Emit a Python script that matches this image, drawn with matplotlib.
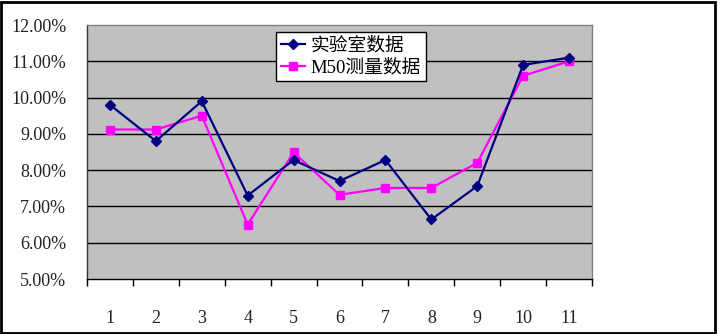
import matplotlib
matplotlib.use("Agg")
import matplotlib.pyplot as plt
from matplotlib.patches import Rectangle
from matplotlib.ticker import FixedLocator

categories = ["1", "2", "3", "4", "5", "6", "7", "8", "9", "10", "11"]
lab_values = [9.80, 8.80, 9.90, 7.30, 8.28, 7.70, 8.28, 6.64, 7.56, 10.90, 11.10]
m50_values = [9.12, 9.12, 9.50, 6.50, 8.49, 7.32, 7.51, 7.51, 8.20, 10.60, 11.00]
series_names = ["实验室数据", "M50测量数据"]
y_ticks = [5, 6, 7, 8, 9, 10, 11, 12]
y_tick_labels = ["5.00%", "6.00%", "7.00%", "8.00%", "9.00%", "10.00%", "11.00%", "12.00%"]

plt.rcParams['font.family'] = ['Liberation Serif', 'Noto Sans CJK SC']

fig = plt.figure(figsize=(7.2, 3.34), dpi=100)
fig.patch.set_facecolor('white')
ax = fig.add_axes([87/720, 1-279/334, (592-87)/720, (279-25)/334])
ax.set_facecolor('#C0C0C0')

x = list(range(1, len(categories)+1))
ax.plot(x, lab_values, color='#000080', lw=1.6, marker='D', ms=5.5,
        mfc='#000080', mec='#000080', label=series_names[0], zorder=4)
ax.plot(x, m50_values, color='#FF00FF', lw=1.6, marker='s', ms=6,
        mfc='#FF00FF', mec='#FF00FF', label=series_names[1], zorder=3)

ax.set_xlim(0.5, len(categories)+0.5)
ax.set_ylim(5, 12)
ax.set_yticks(y_ticks)
ax.set_yticklabels(y_tick_labels, fontsize=13, color='#222222')
ax.tick_params(axis='y', length=0, pad=15)
ax.set_xticks(x)
ax.set_xticklabels(categories, fontsize=13, color='#222222')
ax.tick_params(axis='x', which='major', length=0, pad=22)
ax.xaxis.set_minor_locator(FixedLocator([i+0.5 for i in range(0, len(categories)+1)]))
ax.tick_params(axis='x', which='minor', length=5, width=1, direction='out', color='black')

for yv in y_ticks[1:-1]:
    ax.axhline(yv, color='black', lw=1, zorder=1)

ax.spines['left'].set_color('#333333')
ax.spines['bottom'].set_color('black')
ax.spines['top'].set_color('#808080')
ax.spines['right'].set_color('#808080')
for s in ax.spines.values():
    s.set_linewidth(1)

leg = ax.legend(loc='upper left', bbox_to_anchor=(276/720, 1-32/334),
                bbox_transform=fig.transFigure, fontsize=13.5, frameon=True,
                fancybox=False, framealpha=1, edgecolor='black',
                handlelength=1.3, handletextpad=0.3, borderpad=0.25,
                labelspacing=0.25, borderaxespad=0)
leg.get_frame().set_linewidth(1)

fig.patches.append(Rectangle((1/720, 1.5/334), 714/720, 331/334, transform=fig.transFigure,
                             fill=False, edgecolor='black', lw=2))

fig.savefig('out.png', dpi=100, facecolor='white')
